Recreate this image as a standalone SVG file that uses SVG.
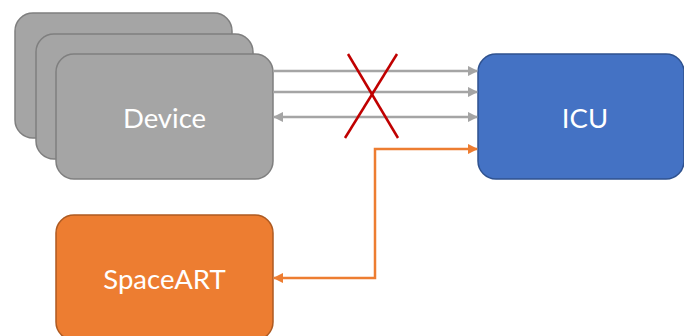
<svg xmlns="http://www.w3.org/2000/svg" width="684" height="336" viewBox="0 0 684 336">
  <style>
    .dev { fill: #A5A5A5; stroke: #7F7F7F; stroke-width: 1.5; }
    .icu { fill: #4472C4; stroke: #2F528F; stroke-width: 1.5; }
    .art { fill: #ED7D31; stroke: #AE5A21; stroke-width: 1.5; }
    .label { fill: #FFFFFF; font-family: Lato, "Open Sans", "Liberation Sans", sans-serif; font-size: 27.5px; text-anchor: middle; dominant-baseline: central; }
    .link { fill: none; stroke: #A5A5A5; stroke-width: 2.5; }
    .ctrl { fill: none; stroke: #ED7D31; stroke-width: 2.5; }
    .cross { stroke: #C00000; stroke-width: 2.5; }
  </style>
  <defs>
    <marker id="headGray" viewBox="0 0 10 10" refX="9" refY="5" markerWidth="4.2" markerHeight="4.2" orient="auto-start-reverse" markerUnits="strokeWidth">
      <path d="M0,0 L10,5 L0,10 z" fill="#A5A5A5"/>
    </marker>
    <marker id="headOrange" viewBox="0 0 10 10" refX="9" refY="5" markerWidth="4.2" markerHeight="4.2" orient="auto-start-reverse" markerUnits="strokeWidth">
      <path d="M0,0 L10,5 L0,10 z" fill="#ED7D31"/>
    </marker>
  </defs>

  <g id="device-stack">
    <rect class="dev" x="15" y="13" width="217" height="125" rx="18"/>
    <rect class="dev" x="36" y="34" width="217" height="125" rx="18"/>
    <rect class="dev" x="56" y="54" width="217" height="125" rx="18"/>
    <text class="label" x="164.5" y="117">Device</text>
  </g>

  <g id="icu">
    <rect class="icu" x="478" y="54" width="206" height="125" rx="18"/>
    <text class="label" x="585" y="117">ICU</text>
  </g>

  <g id="spaceart">
    <rect class="art" x="56" y="215" width="217" height="125" rx="18"/>
    <text class="label" x="164.5" y="278">SpaceART</text>
  </g>

  <g id="connectors">
    <line class="link" x1="273" y1="71" x2="477" y2="71" marker-end="url(#headGray)"/>
    <line class="link" x1="273" y1="92" x2="477" y2="92" marker-end="url(#headGray)"/>
    <line class="link" x1="274" y1="117" x2="477" y2="117" marker-start="url(#headGray)" marker-end="url(#headGray)"/>
    <polyline class="ctrl" points="274,278 375,278 375,149 477,149" marker-start="url(#headOrange)" marker-end="url(#headOrange)"/>
    <line class="cross" x1="348" y1="54" x2="398" y2="138"/>
    <line class="cross" x1="397" y1="54" x2="345" y2="138"/>
  </g>
</svg>
